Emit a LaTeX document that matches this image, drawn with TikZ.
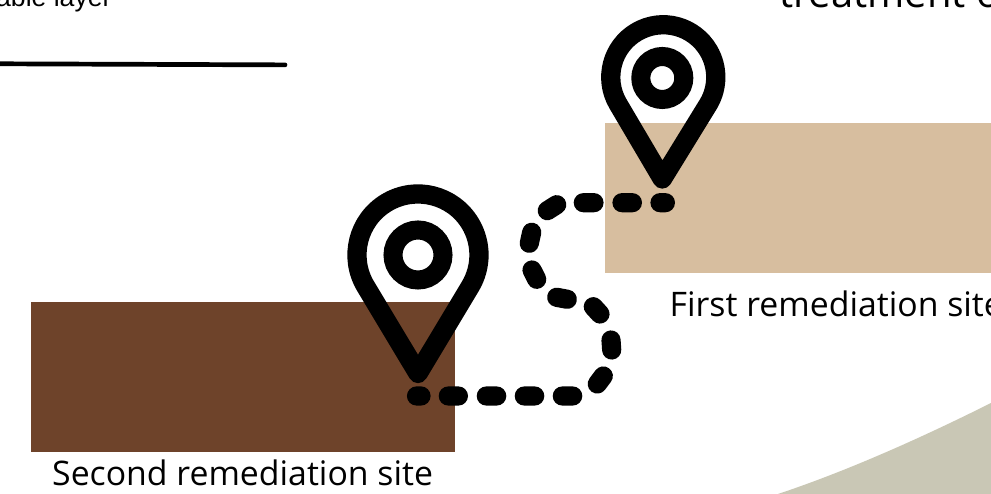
\documentclass[tikz,border=0pt]{standalone}
\usepackage{fontspec}
\setmainfont{Open Sans}
\newfontfamily\arialfont{Liberation Sans}
\definecolor{tanfill}{HTML}{D7BE9F}
\definecolor{brownfill}{HTML}{6E432A}
\definecolor{sagefill}{HTML}{C9C7B5}
\tikzset{
  pinline/.style={draw=black,line width=19.3pt,line join=round},
  ringline/.style={draw=black,line width=19pt},
  trail/.style={draw=black,line width=19.2pt,line cap=round},
  site/.style={inner sep=0pt,anchor=base west,font=\fontsize{33.8}{36}\selectfont,text=black}
}
\begin{document}
\begin{tikzpicture}[x=1pt,y=1pt]
\useasboundingbox (0,0) rectangle (991,494);
\clip (0,0) rectangle (991,494);
\fill[white] (0,0) rectangle (991,494);
% ground shape, rectangles
\fill[sagefill] (778,0) .. controls (850,24) and (925,58) .. (991,91) -- (991,0) -- cycle;
\fill[tanfill] (605,221) rectangle (991,371);
\fill[brownfill] (31,42) rectangle (455,192);
% top line and cut text
\coordinate (lineL) at (-2,430.2);
\coordinate (lineR) at (285,429.1);
\draw[line width=4.7pt,line cap=round] (lineL) -- (lineR);
\node[inner sep=0pt,anchor=base west,font=\arialfont\fontsize{26.6}{29}\selectfont] (layer) at (-4,487) {able layer};
\node[site,font=\fontsize{40}{44}\selectfont] (treat) at (779,486) {treatment o};
% labels
\node[site] (first) at (669.5,177.5) {First remediation site};
\node[site] (second) at (52,8.5) {Second remediation site};
% trail
\draw[trail]
  (416.5,98) -- (421,98)
  (448.3,98) -- (458.4,98)
  (486.3,98) -- (496.7,98)
  (524.3,98) -- (534.7,98)
  (562.3,98) -- (572.7,98)
  (597.3,110) -- (603.3,118)
  (611.7,144) -- (611,154)
  (600,180) -- (593.3,187.3)
  (567.3,194.7) -- (556.7,196.7)
  (536.7,214.7) -- (532,224)
  (529.3,250.7) -- (531.7,261.7)
  (547.3,283.3) -- (556.7,289.3)
  (583.3,291.3) -- (594,291.3)
  (622,291.3) -- (632.4,291.3)
  (660,291.3) -- (665.4,291.3);
% pin 2
\draw[pinline] (418,120.5) -- (365.7,207.6) arc[start angle=211,end angle=-31,radius=61] -- cycle;
\draw[ringline] (418,239) circle[radius=25];
% pin 1
\draw[pinline] (662.3,315) -- (617.8,390.5) arc[start angle=210,end angle=-30,radius=52.5] -- cycle;
\draw[ringline] (662.3,416) circle[radius=21.5];
\end{tikzpicture}
\end{document}
